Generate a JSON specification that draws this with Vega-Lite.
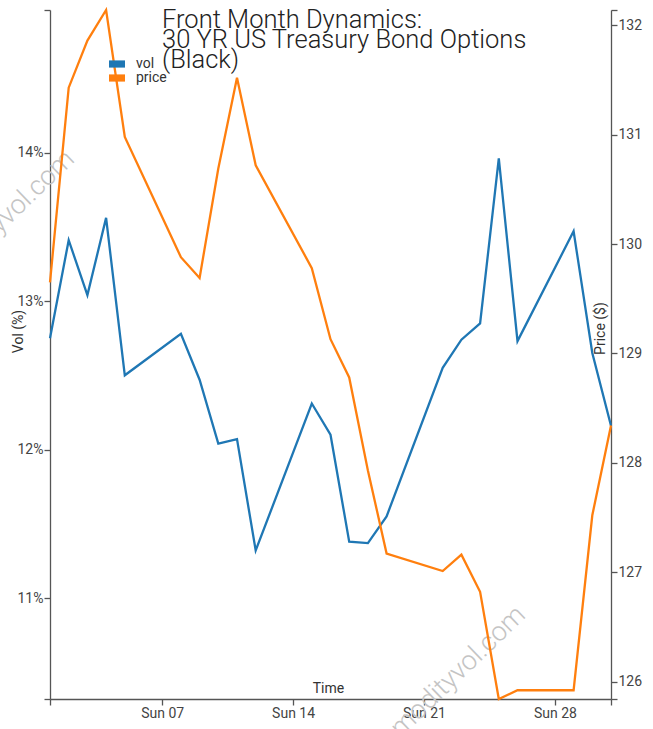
{
  "$schema": "https://vega.github.io/schema/vega-lite/v6.json",
  "width": 561,
  "height": 689,
  "autosize": {"type": "none"},
  "padding": {"left": 50, "top": 10, "right": 42, "bottom": 30},
  "background": "white",
  "title": {
    "text": ["Front Month Dynamics:", "30 YR US Treasury Bond Options", "(Black)"],
    "anchor": "start",
    "frame": "group",
    "orient": "top",
    "offset": -68,
    "dx": 112,
    "baseline": "top",
    "lineHeight": 20,
    "fontSize": 25.5,
    "fontWeight": 300,
    "font": "Roboto",
    "color": "#222"
  },
  "config": {
    "view": {"stroke": null},
    "font": "Roboto",
    "axis": {
      "grid": false,
      "domainColor": "#555",
      "domainWidth": 1.3,
      "tickColor": "#555",
      "tickWidth": 1.3,
      "tickSize": 6,
      "labelFont": "Roboto",
      "labelFontSize": 14,
      "labelColor": "#444",
      "labelPadding": 1,
      "titleFont": "Roboto",
      "titleFontSize": 14,
      "titleFontWeight": "normal",
      "titleColor": "#333"
    },
    "legend": {
      "labelFont": "Roboto",
      "labelFontSize": 14,
      "labelColor": "#333"
    }
  },
  "datasets": {
    "main": [
      {"date": "2018-10-01T00:00:00", "vol": 12.75, "price": 129.65},
      {"date": "2018-10-02T00:00:00", "vol": 13.41, "price": 131.43},
      {"date": "2018-10-03T00:00:00", "vol": 13.04, "price": 131.86},
      {"date": "2018-10-04T00:00:00", "vol": 13.56, "price": 132.14},
      {"date": "2018-10-05T00:00:00", "vol": 12.50, "price": 130.98},
      {"date": "2018-10-08T00:00:00", "vol": 12.78, "price": 129.88},
      {"date": "2018-10-09T00:00:00", "vol": 12.47, "price": 129.69},
      {"date": "2018-10-10T00:00:00", "vol": 12.04, "price": 130.69},
      {"date": "2018-10-11T00:00:00", "vol": 12.07, "price": 131.52},
      {"date": "2018-10-12T00:00:00", "vol": 11.32, "price": 130.72},
      {"date": "2018-10-15T00:00:00", "vol": 12.31, "price": 129.78},
      {"date": "2018-10-16T00:00:00", "vol": 12.10, "price": 129.13},
      {"date": "2018-10-17T00:00:00", "vol": 11.38, "price": 128.78},
      {"date": "2018-10-18T00:00:00", "vol": 11.37, "price": 127.93},
      {"date": "2018-10-19T00:00:00", "vol": 11.55, "price": 127.17},
      {"date": "2018-10-22T00:00:00", "vol": 12.55, "price": 127.01},
      {"date": "2018-10-23T00:00:00", "vol": 12.74, "price": 127.16},
      {"date": "2018-10-24T00:00:00", "vol": 12.85, "price": 126.82},
      {"date": "2018-10-25T00:00:00", "vol": 13.96, "price": 125.84},
      {"date": "2018-10-26T00:00:00", "vol": 12.73, "price": 125.92},
      {"date": "2018-10-29T00:00:00", "vol": 13.47, "price": 125.92},
      {"date": "2018-10-30T00:00:00", "vol": 12.65, "price": 127.52},
      {"date": "2018-10-31T00:00:00", "vol": 12.16, "price": 128.34}
    ],
    "marks": [
      {"date": "2018-09-27T16:30:00", "vol": 13.45, "label": "commodityvol.com"},
      {"date": "2018-10-21T19:30:00", "vol": 10.38, "label": "commodityvol.com"}
    ]
  },
  "layer": [
    {
      "data": {"name": "marks"},
      "mark": {"type": "text", "angle": -44, "align": "center", "baseline": "middle", "font": "Roboto", "fontSize": 27, "fontWeight": 300, "color": "#c4c4c4"},
      "encoding": {
        "x": {
          "field": "date", "type": "temporal",
          "scale": {"domain": [{"year": 2018, "month": 10, "date": 1}, {"year": 2018, "month": 10, "date": 31}]},
          "axis": {
            "orient": "bottom",
            "values": [
              {"year": 2018, "month": 10, "date": 1},
              {"year": 2018, "month": 10, "date": 7},
              {"year": 2018, "month": 10, "date": 14},
              {"year": 2018, "month": 10, "date": 21},
              {"year": 2018, "month": 10, "date": 28},
              {"year": 2018, "month": 10, "date": 31}
            ],
            "labelExpr": "day(datum.value) == 0 ? timeFormat(datum.value, '%a %d') : ''",
            "title": "Time",
            "titleX": 278,
            "titleY": -7,
            "titleAlign": "center",
            "titleBaseline": "alphabetic"
          }
        },
        "y": {"field": "vol", "type": "quantitative", "scale": {"domain": [10.32, 14.96], "nice": false, "zero": false}, "axis": null},
        "text": {"field": "label"}
      }
    },
    {
      "data": {"name": "main"},
      "mark": {"type": "line", "strokeWidth": 2.3},
      "encoding": {
        "x": {"field": "date", "type": "temporal"},
        "y": {
          "field": "vol", "type": "quantitative",
          "scale": {"domain": [10.32, 14.96], "nice": false, "zero": false},
          "axis": {
            "orient": "left",
            "values": [10.32, 11, 12, 13, 14, 14.96],
            "labelExpr": "datum.value % 1 == 0 ? datum.value + '%' : ''",
            "title": "Vol (%)",
            "titleX": -32,
            "titleY": 321,
            "titleAngle": -90,
            "titleAlign": "center",
            "titleBaseline": "middle"
          }
        },
        "color": {
          "datum": "vol",
          "type": "nominal",
          "scale": {"domain": ["vol", "price"], "range": ["#1f77b4", "#ff7f0e"]},
          "legend": {
            "orient": "none",
            "legendX": 60,
            "legendY": 47,
            "title": null,
            "symbolType": "M-4,-1.8H4V1.8H-4Z",
            "symbolSize": 16,
            "symbolStrokeWidth": 0,
            "rowPadding": 0,
            "labelOffset": 12,
            "encode": {
              "symbols": {
                "update": {
                  "fill": {"scale": "color", "field": "value"},
                  "stroke": {"value": "transparent"},
                  "strokeWidth": {"value": 0},
                  "fillOpacity": {"value": 1}
                }
              }
            }
          }
        }
      }
    },
    {
      "data": {"name": "main"},
      "mark": {"type": "line", "strokeWidth": 2.3},
      "encoding": {
        "x": {"field": "date", "type": "temporal"},
        "y": {
          "field": "price", "type": "quantitative",
          "scale": {"domain": [125.84, 132.14], "nice": false, "zero": false},
          "axis": {
            "orient": "right",
            "values": [125.84, 126, 127, 128, 129, 130, 131, 132, 132.14],
            "labelExpr": "datum.value % 1 == 0 ? datum.value : ''",
            "title": "Price ($)",
            "titleX": -11,
            "titleY": 318,
            "titleAngle": -90,
            "titleAlign": "center",
            "titleBaseline": "middle"
          }
        },
        "color": {"datum": "price", "type": "nominal"}
      }
    }
  ],
  "resolve": {"scale": {"y": "independent"}, "axis": {"y": "independent"}}
}
